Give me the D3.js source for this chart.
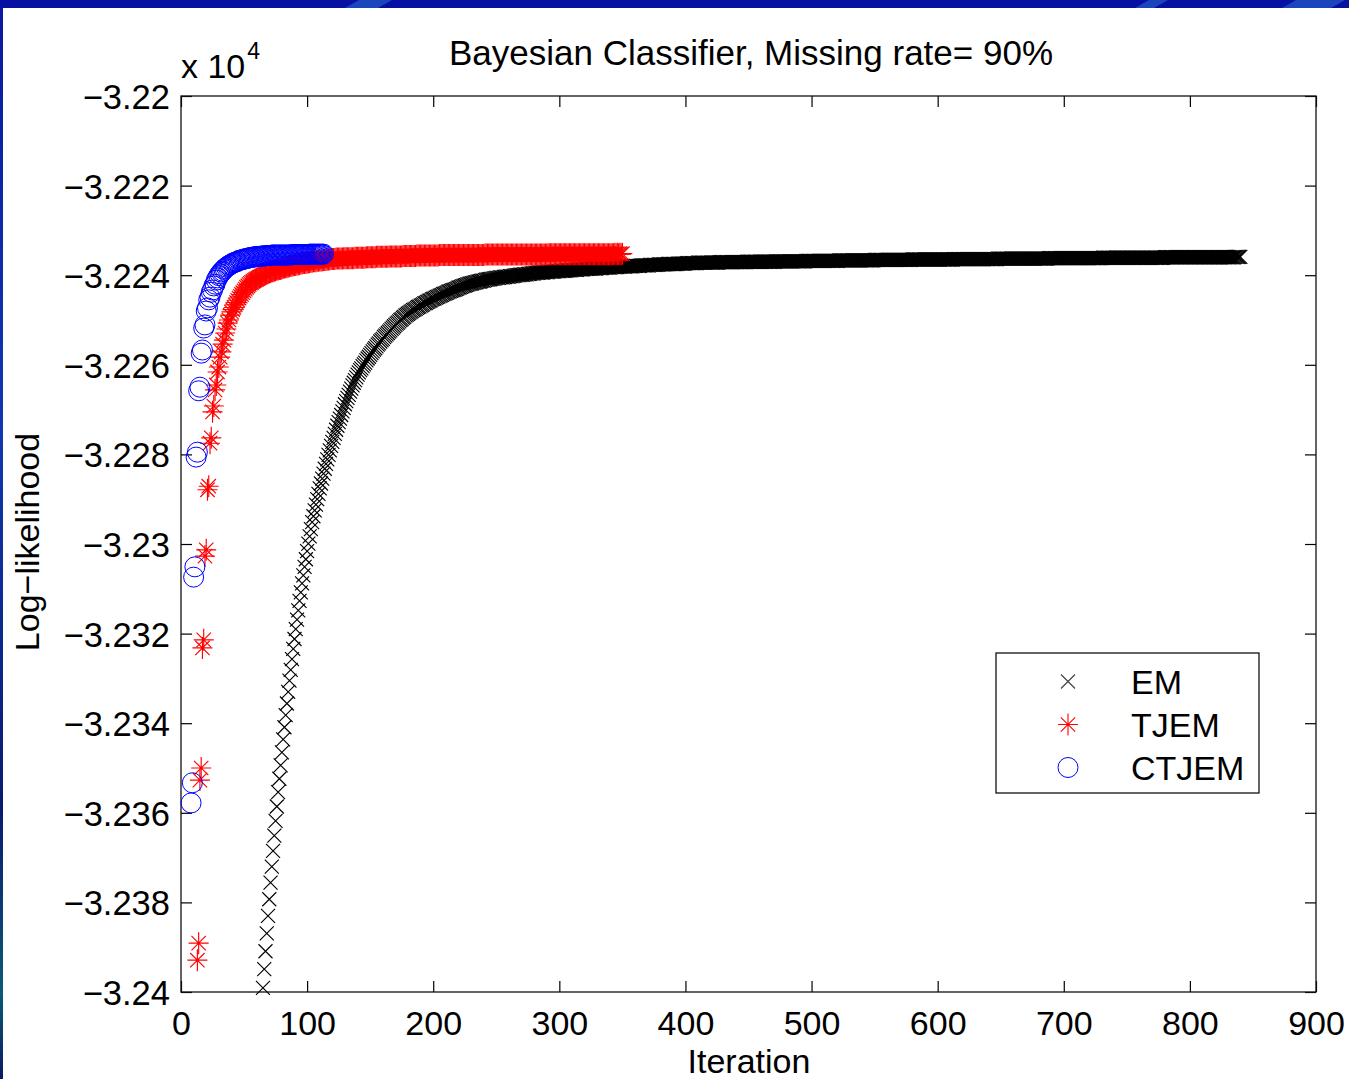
<!DOCTYPE html>
<html>
<head>
<meta charset="utf-8">
<script src="https://cdn.jsdelivr.net/npm/d3@7"></script>
<style>
  body { margin: 0; background: #ffffff; }
  svg { display: block; }
</style>
</head>
<body>
<svg id="chart" width="1349" height="1079"></svg>
<script>
// ---------------- DATA ----------------
const chartTitle = "Bayesian Classifier, Missing rate= 90%";
const xLabel = "Iteration";
const yLabel = "Log\u2212likelihood";
const seriesNames = ["EM", "TJEM", "CTJEM"];
const xTicks = [0, 100, 200, 300, 400, 500, 600, 700, 800, 900];
const yTicks = [-32400, -32380, -32360, -32340, -32320, -32300, -32280, -32260, -32240, -32220, -32200];

// EM log-likelihood, one value per iteration starting at iteration 65
const emStart = 65;
const emValues = [
-32399.1,-32394.9,-32390.9,-32386.9,-32383.0,-32379.3,-32375.6,-32372.0,-32368.5,-32365.1,
-32361.8,-32358.6,-32355.4,-32352.4,-32349.4,-32346.5,-32343.6,-32340.9,-32338.2,-32335.6,
-32333.0,-32330.5,-32328.1,-32325.7,-32323.4,-32321.2,-32319.0,-32316.9,-32314.8,-32312.7,
-32310.8,-32308.8,-32307.0,-32305.1,-32303.4,-32301.6,-32299.9,-32298.3,-32296.7,-32295.1,
-32293.8,-32292.5,-32291.2,-32290.0,-32288.8,-32287.6,-32286.5,-32285.4,-32284.3,-32283.2,
-32282.1,-32281.1,-32280.1,-32279.1,-32278.1,-32277.2,-32276.3,-32275.4,-32274.5,-32273.6,
-32272.8,-32272.0,-32271.2,-32270.4,-32269.6,-32268.8,-32268.1,-32267.4,-32266.7,-32266.0,
-32265.3,-32264.6,-32264.0,-32263.4,-32262.8,-32262.2,-32261.7,-32261.2,-32260.8,-32260.3,
-32259.9,-32259.5,-32259.0,-32258.6,-32258.2,-32257.8,-32257.4,-32257.0,-32256.6,-32256.3,
-32255.9,-32255.5,-32255.2,-32254.8,-32254.5,-32254.2,-32253.8,-32253.5,-32253.2,-32252.9,
-32252.6,-32252.3,-32252.0,-32251.7,-32251.4,-32251.1,-32250.8,-32250.6,-32250.3,-32250.0,
-32249.8,-32249.5,-32249.3,-32249.0,-32248.8,-32248.6,-32248.4,-32248.2,-32248.0,-32247.8,
-32247.7,-32247.5,-32247.3,-32247.1,-32247.0,-32246.8,-32246.7,-32246.5,-32246.3,-32246.2,
-32246.0,-32245.9,-32245.7,-32245.6,-32245.4,-32245.3,-32245.2,-32245.0,-32244.9,-32244.8,
-32244.6,-32244.5,-32244.4,-32244.2,-32244.1,-32244.0,-32243.9,-32243.7,-32243.6,-32243.5,
-32243.4,-32243.3,-32243.2,-32243.1,-32243.0,-32242.8,-32242.7,-32242.6,-32242.5,-32242.4,
-32242.3,-32242.2,-32242.1,-32242.0,-32241.9,-32241.9,-32241.8,-32241.7,-32241.6,-32241.6,
-32241.5,-32241.4,-32241.4,-32241.3,-32241.2,-32241.2,-32241.1,-32241.0,-32241.0,-32240.9,
-32240.9,-32240.8,-32240.8,-32240.7,-32240.7,-32240.6,-32240.6,-32240.6,-32240.5,-32240.5,
-32240.5,-32240.4,-32240.4,-32240.3,-32240.3,-32240.3,-32240.2,-32240.2,-32240.2,-32240.1,
-32240.1,-32240.0,-32240.0,-32240.0,-32239.9,-32239.9,-32239.9,-32239.8,-32239.8,-32239.8,
-32239.7,-32239.7,-32239.7,-32239.6,-32239.6,-32239.6,-32239.5,-32239.5,-32239.5,-32239.4,
-32239.4,-32239.4,-32239.4,-32239.3,-32239.3,-32239.3,-32239.3,-32239.2,-32239.2,-32239.2,
-32239.2,-32239.2,-32239.1,-32239.1,-32239.1,-32239.1,-32239.0,-32239.0,-32239.0,-32239.0,
-32239.0,-32238.9,-32238.9,-32238.9,-32238.9,-32238.8,-32238.8,-32238.8,-32238.8,-32238.8,
-32238.7,-32238.7,-32238.7,-32238.7,-32238.7,-32238.6,-32238.6,-32238.6,-32238.6,-32238.6,
-32238.5,-32238.5,-32238.5,-32238.5,-32238.5,-32238.4,-32238.4,-32238.4,-32238.4,-32238.4,
-32238.3,-32238.3,-32238.3,-32238.3,-32238.3,-32238.3,-32238.2,-32238.2,-32238.2,-32238.2,
-32238.2,-32238.2,-32238.1,-32238.1,-32238.1,-32238.1,-32238.1,-32238.1,-32238.0,-32238.0,
-32238.0,-32238.0,-32238.0,-32238.0,-32237.9,-32237.9,-32237.9,-32237.9,-32237.9,-32237.9,
-32237.8,-32237.8,-32237.8,-32237.8,-32237.8,-32237.8,-32237.8,-32237.7,-32237.7,-32237.7,
-32237.7,-32237.7,-32237.7,-32237.7,-32237.6,-32237.6,-32237.6,-32237.6,-32237.6,-32237.6,
-32237.6,-32237.5,-32237.5,-32237.5,-32237.5,-32237.5,-32237.5,-32237.5,-32237.5,-32237.4,
-32237.4,-32237.4,-32237.4,-32237.4,-32237.4,-32237.4,-32237.3,-32237.3,-32237.3,-32237.3,
-32237.3,-32237.3,-32237.3,-32237.3,-32237.3,-32237.2,-32237.2,-32237.2,-32237.2,-32237.2,
-32237.2,-32237.2,-32237.2,-32237.2,-32237.2,-32237.2,-32237.2,-32237.2,-32237.2,-32237.2,
-32237.2,-32237.2,-32237.1,-32237.1,-32237.1,-32237.1,-32237.1,-32237.1,-32237.1,-32237.1,
-32237.1,-32237.1,-32237.1,-32237.1,-32237.1,-32237.1,-32237.1,-32237.1,-32237.1,-32237.1,
-32237.1,-32237.1,-32237.1,-32237.1,-32237.0,-32237.0,-32237.0,-32237.0,-32237.0,-32237.0,
-32237.0,-32237.0,-32237.0,-32237.0,-32237.0,-32237.0,-32237.0,-32237.0,-32237.0,-32237.0,
-32237.0,-32237.0,-32237.0,-32237.0,-32237.0,-32237.0,-32237.0,-32236.9,-32236.9,-32236.9,
-32236.9,-32236.9,-32236.9,-32236.9,-32236.9,-32236.9,-32236.9,-32236.9,-32236.9,-32236.9,
-32236.9,-32236.9,-32236.9,-32236.9,-32236.9,-32236.9,-32236.9,-32236.9,-32236.9,-32236.9,
-32236.9,-32236.8,-32236.8,-32236.8,-32236.8,-32236.8,-32236.8,-32236.8,-32236.8,-32236.8,
-32236.8,-32236.8,-32236.8,-32236.8,-32236.8,-32236.8,-32236.8,-32236.8,-32236.8,-32236.8,
-32236.8,-32236.8,-32236.8,-32236.8,-32236.8,-32236.8,-32236.8,-32236.7,-32236.7,-32236.7,
-32236.7,-32236.7,-32236.7,-32236.7,-32236.7,-32236.7,-32236.7,-32236.7,-32236.7,-32236.7,
-32236.7,-32236.7,-32236.7,-32236.7,-32236.7,-32236.7,-32236.7,-32236.7,-32236.7,-32236.7,
-32236.7,-32236.7,-32236.7,-32236.7,-32236.7,-32236.6,-32236.6,-32236.6,-32236.6,-32236.6,
-32236.6,-32236.6,-32236.6,-32236.6,-32236.6,-32236.6,-32236.6,-32236.6,-32236.6,-32236.6,
-32236.6,-32236.6,-32236.6,-32236.6,-32236.6,-32236.6,-32236.6,-32236.6,-32236.6,-32236.6,
-32236.6,-32236.6,-32236.6,-32236.6,-32236.6,-32236.5,-32236.5,-32236.5,-32236.5,-32236.5,
-32236.5,-32236.5,-32236.5,-32236.5,-32236.5,-32236.5,-32236.5,-32236.5,-32236.5,-32236.5,
-32236.5,-32236.5,-32236.5,-32236.5,-32236.5,-32236.5,-32236.5,-32236.5,-32236.5,-32236.5,
-32236.5,-32236.5,-32236.5,-32236.5,-32236.5,-32236.5,-32236.5,-32236.5,-32236.4,-32236.4,
-32236.4,-32236.4,-32236.4,-32236.4,-32236.4,-32236.4,-32236.4,-32236.4,-32236.4,-32236.4,
-32236.4,-32236.4,-32236.4,-32236.4,-32236.4,-32236.4,-32236.4,-32236.4,-32236.4,-32236.4,
-32236.4,-32236.4,-32236.4,-32236.4,-32236.4,-32236.4,-32236.4,-32236.4,-32236.4,-32236.4,
-32236.4,-32236.4,-32236.4,-32236.3,-32236.3,-32236.3,-32236.3,-32236.3,-32236.3,-32236.3,
-32236.3,-32236.3,-32236.3,-32236.3,-32236.3,-32236.3,-32236.3,-32236.3,-32236.3,-32236.3,
-32236.3,-32236.3,-32236.3,-32236.3,-32236.3,-32236.3,-32236.3,-32236.3,-32236.3,-32236.3,
-32236.3,-32236.3,-32236.3,-32236.3,-32236.3,-32236.3,-32236.3,-32236.3,-32236.3,-32236.3,
-32236.3,-32236.3,-32236.3,-32236.2,-32236.2,-32236.2,-32236.2,-32236.2,-32236.2,-32236.2,
-32236.2,-32236.2,-32236.2,-32236.2,-32236.2,-32236.2,-32236.2,-32236.2,-32236.2,-32236.2,
-32236.2,-32236.2,-32236.2,-32236.2,-32236.2,-32236.2,-32236.2,-32236.2,-32236.2,-32236.2,
-32236.2,-32236.2,-32236.2,-32236.2,-32236.2,-32236.2,-32236.2,-32236.2,-32236.2,-32236.2,
-32236.2,-32236.2,-32236.2,-32236.2,-32236.2,-32236.2,-32236.1,-32236.1,-32236.1,-32236.1,
-32236.1,-32236.1,-32236.1,-32236.1,-32236.1,-32236.1,-32236.1,-32236.1,-32236.1,-32236.1,
-32236.1,-32236.1,-32236.1,-32236.1,-32236.1,-32236.1,-32236.1,-32236.1,-32236.1,-32236.1,
-32236.1,-32236.1,-32236.1,-32236.1,-32236.1,-32236.1,-32236.1,-32236.1,-32236.1,-32236.1,
-32236.1,-32236.1,-32236.1,-32236.1,-32236.1,-32236.1,-32236.1,-32236.1,-32236.1,-32236.1,
-32236.1,-32236.1,-32236.1,-32236.1,-32236.1,-32236.0,-32236.0,-32236.0,-32236.0,-32236.0,
-32236.0,-32236.0,-32236.0,-32236.0,-32236.0,-32236.0,-32236.0,-32236.0,-32236.0,-32236.0,
-32236.0,-32236.0,-32236.0,-32236.0,-32236.0,-32236.0,-32236.0,-32236.0,-32236.0,-32236.0,
-32236.0,-32236.0,-32236.0,-32236.0,-32236.0,-32236.0,-32236.0,-32236.0,-32236.0,-32236.0,
-32236.0,-32236.0,-32236.0,-32236.0,-32236.0,-32236.0,-32236.0,-32236.0,-32236.0,-32236.0,
-32236.0,-32236.0,-32236.0,-32236.0,-32236.0,-32236.0,-32236.0,-32236.0,-32236.0,-32236.0,
-32236.0,-32235.9,-32235.9,-32235.9,-32235.9,-32235.9
];

// TJEM log-likelihood, one value per iteration starting at iteration 13
const tjemStart = 13;
const tjemValues = [
/* 13-22 */   -32392.9,-32389.1,-32352.7,-32350.0,-32323.2,-32321.4,-32302.7,-32301.3,-32287.9,-32287.1,
/* 23-32 */   -32277.5,-32276.3,-32270.5,-32269.2,-32265.6,-32264.5,-32261.6,-32260.5,-32258.3,-32257.1,
/* 33-42 */   -32255.4,-32254.5,-32252.9,-32252.0,-32250.7,-32250.0,-32248.9,-32248.2,-32247.7,-32247.2,
/* 43-52 */   -32246.6,-32246.1,-32245.6,-32245.1,-32244.7,-32244.3,-32243.9,-32243.5,-32243.1,-32242.7,
/* 53-62 */   -32242.4,-32242.1,-32241.8,-32241.6,-32241.4,-32241.2,-32241.0,-32240.8,-32240.7,-32240.5,
/* 63-72 */   -32240.4,-32240.2,-32240.1,-32239.9,-32239.8,-32239.6,-32239.5,-32239.4,-32239.3,-32239.2,
/* 73-82 */   -32239.1,-32239.0,-32238.9,-32238.8,-32238.7,-32238.6,-32238.6,-32238.5,-32238.4,-32238.3,
/* 83-92 */   -32238.2,-32238.2,-32238.1,-32238.0,-32237.9,-32237.9,-32237.8,-32237.7,-32237.7,-32237.6,
/* 93-102 */  -32237.6,-32237.5,-32237.4,-32237.4,-32237.3,-32237.3,-32237.2,-32237.2,-32237.1,-32237.1,
/* 103-112 */ -32237.0,-32237.0,-32236.9,-32236.9,-32236.9,-32236.8,-32236.8,-32236.7,-32236.7,-32236.7,
/* 113-122 */ -32236.6,-32236.6,-32236.6,-32236.5,-32236.5,-32236.5,-32236.4,-32236.4,-32236.4,-32236.4,
/* 123-132 */ -32236.3,-32236.3,-32236.3,-32236.3,-32236.3,-32236.3,-32236.2,-32236.2,-32236.2,-32236.2,
/* 133-142 */ -32236.2,-32236.2,-32236.2,-32236.2,-32236.2,-32236.1,-32236.1,-32236.1,-32236.1,-32236.1,
/* 143-152 */ -32236.1,-32236.1,-32236.1,-32236.1,-32236.0,-32236.0,-32236.0,-32236.0,-32236.0,-32236.0,
/* 153-162 */ -32236.0,-32236.0,-32235.9,-32235.9,-32235.9,-32235.9,-32235.9,-32235.9,-32235.9,-32235.9,
/* 163-172 */ -32235.9,-32235.9,-32235.8,-32235.8,-32235.8,-32235.8,-32235.8,-32235.8,-32235.8,-32235.8,
/* 173-182 */ -32235.8,-32235.8,-32235.8,-32235.7,-32235.7,-32235.7,-32235.7,-32235.7,-32235.7,-32235.7,
/* 183-192 */ -32235.7,-32235.7,-32235.7,-32235.7,-32235.6,-32235.6,-32235.6,-32235.6,-32235.6,-32235.6,
/* 193-202 */ -32235.6,-32235.6,-32235.6,-32235.6,-32235.6,-32235.6,-32235.6,-32235.6,-32235.6,-32235.6,
/* 203-212 */ -32235.6,-32235.6,-32235.5,-32235.5,-32235.5,-32235.5,-32235.5,-32235.5,-32235.5,-32235.5,
/* 213-222 */ -32235.5,-32235.5,-32235.5,-32235.5,-32235.5,-32235.5,-32235.5,-32235.5,-32235.5,-32235.5,
/* 223-232 */ -32235.5,-32235.5,-32235.5,-32235.5,-32235.5,-32235.5,-32235.5,-32235.5,-32235.5,-32235.5,
/* 233-242 */ -32235.5,-32235.5,-32235.5,-32235.5,-32235.5,-32235.5,-32235.5,-32235.5,-32235.4,-32235.4,
/* 243-252 */ -32235.4,-32235.4,-32235.4,-32235.4,-32235.4,-32235.4,-32235.4,-32235.4,-32235.4,-32235.4,
/* 253-262 */ -32235.4,-32235.4,-32235.4,-32235.4,-32235.4,-32235.4,-32235.4,-32235.4,-32235.4,-32235.4,
/* 263-272 */ -32235.4,-32235.4,-32235.4,-32235.4,-32235.4,-32235.4,-32235.4,-32235.4,-32235.4,-32235.4,
/* 273-282 */ -32235.4,-32235.4,-32235.4,-32235.4,-32235.4,-32235.4,-32235.4,-32235.4,-32235.4,-32235.4,
/* 283-292 */ -32235.4,-32235.4,-32235.4,-32235.4,-32235.4,-32235.4,-32235.4,-32235.4,-32235.3,-32235.3,
/* 293-302 */ -32235.3,-32235.3,-32235.3,-32235.3,-32235.3,-32235.3,-32235.3,-32235.3,-32235.3,-32235.3,
/* 303-312 */ -32235.3,-32235.3,-32235.3,-32235.3,-32235.3,-32235.3,-32235.3,-32235.3,-32235.3,-32235.3,
/* 313-322 */ -32235.3,-32235.3,-32235.3,-32235.3,-32235.3,-32235.3,-32235.3,-32235.3,-32235.3,-32235.3,
/* 323-332 */ -32235.3,-32235.3,-32235.3,-32235.3,-32235.3,-32235.3,-32235.3,-32235.3,-32235.3,-32235.3,
/* 333-342 */ -32235.3,-32235.3,-32235.3,-32235.3,-32235.3,-32235.3,-32235.3,-32235.3,-32235.3,-32235.3,
/* 343-350 */ -32235.3,-32235.2,-32235.3,-32235.2,-32235.3,-32235.2,-32235.3,-32235.2
];

// CTJEM log-likelihood, one value per iteration starting at iteration 8
const ctjemStart = 8;
const ctjemValues = [
/* 8-17 */    -32357.8,-32353.3,-32307.4,-32305.1,-32280.6,-32279.5,-32265.8,-32265.0,-32257.4,-32256.7,
/* 18-27 */   -32251.8,-32251.1,-32248.0,-32247.3,-32245.5,-32244.9,-32243.8,-32243.3,-32242.4,-32242.0,
/* 28-37 */   -32241.1,-32240.6,-32240.1,-32239.7,-32239.3,-32239.1,-32238.7,-32238.5,-32238.2,-32238.0,
/* 38-47 */   -32237.8,-32237.7,-32237.5,-32237.3,-32237.2,-32237.1,-32237.0,-32236.9,-32236.7,-32236.6,
/* 48-57 */   -32236.6,-32236.5,-32236.4,-32236.3,-32236.3,-32236.2,-32236.1,-32236.1,-32236.0,-32236.0,
/* 58-67 */   -32235.9,-32235.9,-32235.8,-32235.8,-32235.8,-32235.8,-32235.7,-32235.7,-32235.7,-32235.7,
/* 68-77 */   -32235.6,-32235.6,-32235.6,-32235.6,-32235.5,-32235.5,-32235.5,-32235.5,-32235.5,-32235.5,
/* 78-87 */   -32235.5,-32235.5,-32235.5,-32235.5,-32235.5,-32235.5,-32235.5,-32235.5,-32235.5,-32235.5,
/* 88-97 */   -32235.4,-32235.4,-32235.4,-32235.4,-32235.4,-32235.4,-32235.4,-32235.4,-32235.4,-32235.4,
/* 98-107 */  -32235.4,-32235.4,-32235.4,-32235.4,-32235.3,-32235.3,-32235.3,-32235.3,-32235.3,-32235.3,
/* 108-113 */ -32235.3,-32235.3,-32235.3,-32235.3,-32235.3,-32235.3
];

// ---------------- DRAWING ----------------
const FONT = "'Liberation Sans', Arial, Helvetica, sans-serif";
const W = 1349, H = 1079;
const plot = { left: 181, right: 1316, top: 96, bottom: 992 };

const svg = d3.select("#chart");

// slide frame (blue border)
const defs = svg.append("defs");
const lg = defs.append("linearGradient").attr("id", "leftEdge").attr("x1", 0).attr("y1", 0).attr("x2", 0).attr("y2", 1);
lg.append("stop").attr("offset", "0%").attr("stop-color", "#0a18a0");
lg.append("stop").attr("offset", "40%").attr("stop-color", "#1038b0");
lg.append("stop").attr("offset", "75%").attr("stop-color", "#0a1a70");
lg.append("stop").attr("offset", "92%").attr("stop-color", "#0a5a78");
lg.append("stop").attr("offset", "100%").attr("stop-color", "#0a1a60");
svg.append("rect").attr("x", 0).attr("y", 0).attr("width", W).attr("height", H).attr("fill", "#ffffff");
svg.append("rect").attr("x", 0).attr("y", 0).attr("width", 3).attr("height", H).attr("fill", "url(#leftEdge)");
svg.append("rect").attr("x", 0).attr("y", 0).attr("width", W).attr("height", 8).attr("fill", "#0610a2");
[[345, 392], [1135, 1168], [1282, 1345]].forEach(([a, b]) => {
  svg.append("path").attr("d", `M${a},8L${a + 14},0L${b},0L${b - 14},8Z`).attr("fill", "#2052c4").attr("opacity", 0.8);
});

const x = d3.scaleLinear().domain([xTicks[0], xTicks[xTicks.length - 1]]).range([plot.left, plot.right]);
const y = d3.scaleLinear().domain([yTicks[0], yTicks[yTicks.length - 1]]).range([plot.bottom, plot.top]);

const fmtY = v => String(+(v / 1e4).toFixed(3)).replace("-", "\u2212");
const TL = 11;

function styleAxis(g) {
  g.select(".domain").remove();
  g.attr("font-family", FONT).attr("font-size", 34);
  g.selectAll(".tick line").attr("stroke", "#000").attr("stroke-width", 1.2);
  g.selectAll(".tick text").attr("fill", "#000");
}

svg.append("g").attr("transform", `translate(0,${plot.bottom})`)
  .call(d3.axisBottom(x).tickValues(xTicks).tickFormat(d3.format("d")).tickSizeInner(-TL).tickSizeOuter(0).tickPadding(19))
  .call(styleAxis);
svg.append("g").attr("transform", `translate(0,${plot.top})`)
  .call(d3.axisTop(x).tickValues(xTicks).tickFormat("").tickSizeInner(-TL).tickSizeOuter(0))
  .call(styleAxis);
const yAxisG = svg.append("g").attr("transform", `translate(${plot.left},0)`)
  .call(d3.axisLeft(y).tickValues(yTicks).tickFormat(fmtY).tickSizeInner(-TL).tickSizeOuter(0).tickPadding(11))
  .call(styleAxis);
yAxisG.selectAll(".tick text").attr("dy", "0.36em").attr("font-size", 34.5);
svg.append("g").attr("transform", `translate(${plot.right},0)`)
  .call(d3.axisRight(y).tickValues(yTicks).tickFormat("").tickSizeInner(-TL).tickSizeOuter(0))
  .call(styleAxis);

// plot box
svg.append("rect").attr("x", plot.left).attr("y", plot.top)
  .attr("width", plot.right - plot.left).attr("height", plot.bottom - plot.top)
  .attr("fill", "none").attr("stroke", "#111").attr("stroke-width", 1.3);

// exponent label
const expo = svg.append("text").attr("x", plot.left).attr("y", 78)
  .attr("font-family", FONT).attr("font-size", 34).attr("fill", "#000");
expo.append("tspan").text("x 10");
expo.append("tspan").attr("font-size", 23).attr("dy", -19).attr("dx", 2).text("4");

// title & axis labels
svg.append("text").attr("x", 751).attr("y", 65).attr("text-anchor", "middle")
  .attr("font-family", FONT).attr("font-size", 35).attr("fill", "#000").text(chartTitle);
svg.append("text").attr("x", 749).attr("y", 1073).attr("text-anchor", "middle")
  .attr("font-family", FONT).attr("font-size", 34).attr("fill", "#000").text(xLabel);
svg.append("text").attr("transform", `translate(39,542) rotate(-90)`).attr("text-anchor", "middle")
  .attr("font-family", FONT).attr("font-size", 34).attr("fill", "#000").text(yLabel);

// marker shapes
const markerX = "M-7,-7L7,7M-7,7L7,-7";
const markerStar = "M0,-11V11M-10,0H10M-7.2,-7.2L7.2,7.2M-7.2,7.2L7.2,-7.2";
const circleR = 10;

const toPoints = (start, vals) => vals.map((v, i) => ({ it: start + i, v }));
const emPts = toPoints(emStart, emValues);
const tjemPts = toPoints(tjemStart, tjemValues);
const ctjemPts = toPoints(ctjemStart, ctjemValues);

svg.append("g").attr("class", "em").selectAll("path").data(emPts).join("path")
  .attr("d", markerX).attr("transform", d => `translate(${x(d.it)},${y(d.v)})`)
  .attr("fill", "none").attr("stroke", "#000").attr("stroke-width", 1.15);

svg.append("g").attr("class", "tjem").selectAll("path").data(tjemPts).join("path")
  .attr("d", markerStar).attr("transform", d => `translate(${x(d.it)},${y(d.v)})`)
  .attr("fill", "none").attr("stroke", "#ff0000").attr("stroke-width", 1.15);

svg.append("g").attr("class", "ctjem").selectAll("circle").data(ctjemPts).join("circle")
  .attr("cx", d => x(d.it)).attr("cy", d => y(d.v)).attr("r", circleR)
  .attr("fill", "none").attr("stroke", "#0000ff").attr("stroke-width", 1);

// legend
const leg = svg.append("g");
leg.append("rect").attr("x", 996).attr("y", 653).attr("width", 263).attr("height", 140)
  .attr("fill", "#fff").attr("stroke", "#111").attr("stroke-width", 1.3);
const rowY = [681.5, 724.5, 767.5];
const colors = ["#000", "#ff0000", "#0000ff"];
seriesNames.forEach((name, i) => {
  if (i === 0) {
    leg.append("path").attr("d", markerX).attr("transform", `translate(1068,${rowY[i]})`)
      .attr("fill", "none").attr("stroke", "#444").attr("stroke-width", 1.2);
  } else if (i === 1) {
    leg.append("path").attr("d", markerStar).attr("transform", `translate(1068,${rowY[i]})`)
      .attr("fill", "none").attr("stroke", colors[i]).attr("stroke-width", 1.1);
  } else {
    leg.append("circle").attr("cx", 1068).attr("cy", rowY[i]).attr("r", circleR)
      .attr("fill", "none").attr("stroke", colors[i]).attr("stroke-width", 1);
  }
  leg.append("text").attr("x", 1131).attr("y", rowY[i] + 12)
    .attr("font-family", FONT).attr("font-size", 34).attr("fill", "#000").text(name);
});
</script>
</body>
</html>
